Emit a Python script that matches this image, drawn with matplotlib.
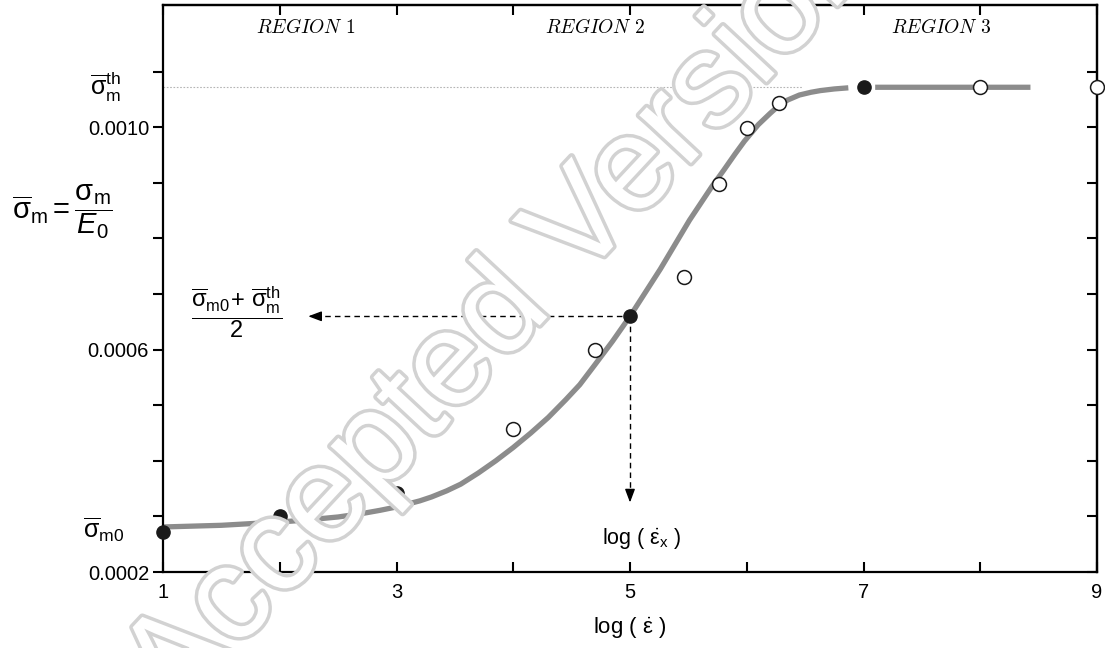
import numpy as np
import matplotlib
matplotlib.use('Agg')
import matplotlib.pyplot as plt
import matplotlib.patheffects as pe

plt.rcParams['font.family'] = ['Liberation Sans', 'DejaVu Sans']
plt.rcParams['mathtext.fontset'] = 'custom'
plt.rcParams['mathtext.rm'] = 'Liberation Sans'
plt.rcParams['mathtext.it'] = 'Liberation Sans:italic'
plt.rcParams['mathtext.bf'] = 'Liberation Sans:bold'

# fitted curve (nan = gap around the x=7 point)
curve_x = [1.0, 1.5, 2.0, 2.2, 2.5, 2.7, 2.86, 3.0, 3.2, 3.3, 3.43, 3.55, 3.7, 3.85,
           4.0, 4.15, 4.3, 4.45, 4.57, 4.7, 4.85, 5.0, 5.26, 5.51, 5.7, 5.8, 5.9,
           5.98, 6.1, 6.2, 6.28, 6.35, 6.45, 6.55, 6.63, 6.75, 6.87, np.nan,
           7.1, 7.5, 8.0, 8.43]
curve_y = [0.000281, 0.000284, 0.000290, 0.000293, 0.000299, 0.000305, 0.000311,
           0.000317, 0.000328, 0.000335, 0.000346, 0.000358, 0.000378, 0.000400,
           0.000424, 0.000450, 0.000478, 0.000510, 0.000537, 0.000573, 0.000615,
           0.000660, 0.000745, 0.000833, 0.000893, 0.000922, 0.000952, 0.000975,
           0.001005, 0.001025, 0.001040, 0.001049, 0.001058, 0.001063, 0.001066,
           0.001069, 0.001071, np.nan, 0.001072, 0.001072, 0.001072, 0.001072]

# measured points
filled_x = [1, 2, 3, 5, 7]
filled_y = [0.000272, 0.000301, 0.000342, 0.000660, 0.001072]
open_x = [4.0, 4.7, 5.46, 5.76, 6.0, 6.28, 8.0, 9.0]
open_y = [0.000457, 0.000600, 0.000730, 0.000898, 0.000998, 0.001043, 0.001072, 0.001072]

sigma_th = 0.001072
sigma_m0 = 0.000276
sigma_mid = 0.000660
log_rate_x = 5.0

x_ticks = [1, 2, 3, 4, 5, 6, 7, 8, 9]
x_tick_labels = ['1', '', '3', '', '5', '', '7', '', '9']
y_ticks = [0.0002, 0.0003, 0.0004, 0.0005, 0.0006, 0.0007, 0.0008, 0.0009, 0.0010, 0.0011]
y_tick_labels = ['0.0002', '', '', '', '0.0006', '', '', '', '0.0010', '']

regions = ['REGION 1', 'REGION 2', 'REGION 3']
region_x = [2.22, 4.70, 7.66]

fig = plt.figure(figsize=(11.05, 6.48), dpi=100)
ax = fig.add_axes([163 / 1105, 1 - 572 / 648, 934 / 1105, 567 / 648])
ax.set_xlim(1, 9)
ax.set_ylim(0.0002, 0.00122)

# curve + points
ax.plot(curve_x, curve_y, color='#8c8c8c', lw=3.8, solid_capstyle='butt',
        solid_joinstyle='round', zorder=2)
ax.plot(filled_x, filled_y, 'o', ms=9.5, mfc='#1a1a1a', mec='#1a1a1a', mew=1, zorder=4, clip_on=False)
ax.plot(open_x, open_y, 'o', ms=10, mfc='white', mec='#1a1a1a', mew=1.1, zorder=4, clip_on=False)

# threshold line
ax.plot([1, 6.48], [sigma_th, sigma_th], color='#b5b5b5', lw=0.8, ls=(0, (1.5, 1.5)), zorder=1)

# dashed guide arrows
ax.plot([2.3, log_rate_x], [sigma_mid, sigma_mid], color='black', lw=1, ls=(0, (4, 3)), zorder=3)
ax.plot([log_rate_x, log_rate_x], [0.000335, sigma_mid], color='black', lw=1, ls=(0, (4, 3)), zorder=3)
ax.annotate('', xy=(2.22, sigma_mid), xytext=(2.36, sigma_mid),
            arrowprops=dict(arrowstyle='-|>,head_length=0.8,head_width=0.3', color='black', lw=1))
ax.annotate('', xy=(log_rate_x, 0.000320), xytext=(log_rate_x, 0.000346),
            arrowprops=dict(arrowstyle='-|>,head_length=0.8,head_width=0.3', color='black', lw=1))

# text labels
for name, rx in zip(regions, region_x):
    ax.text(rx, 0.00118, r'$\mathit{' + name.replace(' ', r'\ ') + '}$', math_fontfamily='cm',
            fontsize=14, ha='center', va='center')

ax.text(1.63, 0.000666,
        r'$\dfrac{\overline{\mathrm{\sigma}}_{\mathrm{m0}}\!+\,\overline{\mathrm{\sigma}}_{\mathrm{m}}^{\mathrm{th}}}{2}$',
        fontsize=17, ha='center', va='center')
ax.text(5.1, 0.000258, r'log ( $\dot{\mathrm{\varepsilon}}_{\mathrm{x}}$ )', fontsize=15.5,
        ha='center', va='center')

yt = ax.get_yaxis_transform()
ax.text(-0.062, sigma_th, r'$\overline{\mathrm{\sigma}}_{\mathrm{m}}^{\mathrm{th}}$', transform=yt,
        fontsize=18, ha='center', va='center')
ax.text(-0.064, sigma_m0, r'$\overline{\mathrm{\sigma}}_{\mathrm{m0}}$', transform=yt,
        fontsize=18, ha='center', va='center')

fig.text(62 / 1105, 1 - 212 / 648,
         r'$\overline{\mathrm{\sigma}}_{\mathrm{m}}=\dfrac{\mathrm{\sigma}_{\mathrm{m}}}{E_{\mathit{0}}}$',
         fontsize=21, ha='center', va='center')
fig.text(630 / 1105, 1 - 628 / 648, r'log ( $\dot{\mathrm{\varepsilon}}$ )', fontsize=16,
         ha='center', va='center')

# axes styling
for s in ax.spines.values():
    s.set_linewidth(1.6)
ax.set_xticks(x_ticks)
ax.set_xticklabels(x_tick_labels, fontsize=14.5)
ax.set_yticks(y_ticks)
ax.set_yticklabels(y_tick_labels, fontsize=14.5)
ax.tick_params(axis='x', direction='in', length=7, width=1.5, pad=8)
ax.tick_params(axis='y', direction='out', length=7, width=1.5, pad=3)

top = ax.secondary_xaxis('top')
top.set_xticks(x_ticks)
top.tick_params(direction='in', length=7, width=1.5, labeltop=False)
right = ax.secondary_yaxis('right')
right.set_yticks(y_ticks)
right.tick_params(direction='in', length=7, width=1.5, labelright=False)
for sa in (top, right):
    for s in sa.spines.values():
        s.set_linewidth(1.6)

# watermark
fig.text(0.455, 0.515, 'Accepted Version', rotation=47, fontsize=96, color='white',
         ha='center', va='center', rotation_mode='anchor', zorder=10,
         path_effects=[pe.withStroke(linewidth=5, foreground='#d2d2d2')])

fig.savefig('out.png', dpi=100)
